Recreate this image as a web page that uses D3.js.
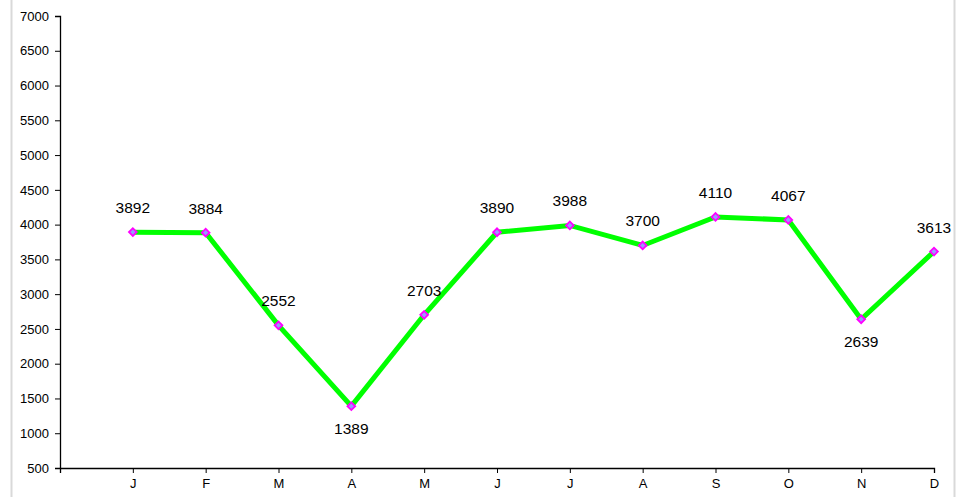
<!DOCTYPE html>
<html><head><meta charset="utf-8">
<script src="https://cdn.jsdelivr.net/npm/d3@7"></script>
<style>body{margin:0;background:#fff;}svg{display:block;font-family:"Liberation Sans",Arial,sans-serif;}</style>
</head><body>
<svg id="c" width="959" height="497"></svg>
<script>
const months = ["J","F","M","A","M","J","J","A","S","O","N","D"];
const values = [3892,3884,2552,1389,2703,3890,3988,3700,4110,4067,2639,3613];
const labelBelow = [false,false,false,true,false,false,false,false,false,false,true,false];
const yTicks = [500,1000,1500,2000,2500,3000,3500,4000,4500,5000,5500,6000,6500,7000];

(function(){
const svg = d3.select("#c");
const mLeft = 60, mRight = 934, mTop = 16, mBottom = 468;

svg.append("line").attr("x1",11.5).attr("x2",11.5).attr("y1",0).attr("y2",497).attr("stroke","#d9d9d9").attr("stroke-width",2);
svg.append("line").attr("x1",954.5).attr("x2",954.5).attr("y1",0).attr("y2",497).attr("stroke","#d9d9d9").attr("stroke-width",2);

const x = d3.scaleLinear().domain([0,12]).range([mLeft,mRight]);
const y = d3.scaleLinear().domain([500,7000]).range([mBottom,mTop]);

const yAxis = d3.axisLeft(y).tickValues(yTicks).tickSize(5).tickPadding(6).tickFormat(d3.format("d"));
const gy = svg.append("g").attr("transform",`translate(${mLeft},0)`).call(yAxis);
gy.select(".domain").attr("stroke","#000").attr("stroke-width",1.3);
gy.selectAll(".tick line").attr("stroke","#000");
gy.selectAll("text").attr("font-size",13).attr("fill","#000").style("font-family","Liberation Sans, Arial, sans-serif");

const xAxis = d3.axisBottom(x).tickValues(d3.range(0,13)).tickSize(5).tickPadding(6)
  .tickFormat(i => i===0 ? "" : months[i-1]);
const gx = svg.append("g").attr("transform",`translate(0,${mBottom})`).call(xAxis);
gx.select(".domain").attr("stroke","#000").attr("stroke-width",1.3);
gx.selectAll(".tick line").attr("stroke","#000");
gx.selectAll("text").attr("font-size",13).attr("fill","#000").style("font-family","Liberation Sans, Arial, sans-serif");

const line = d3.line().x((d,i)=>x(i+1)).y(d=>y(d));
svg.append("path").datum(values).attr("d",line).attr("fill","none")
  .attr("stroke","#00ff00").attr("stroke-width",5).attr("stroke-linejoin","miter");

const sym = d3.symbol().type(d3.symbolSquare).size(30);
svg.selectAll("path.m").data(values).join("path").attr("class","m")
  .attr("d",sym).attr("transform",(d,i)=>`translate(${x(i+1)},${y(d)}) rotate(45)`)
  .attr("fill","#9999ff").attr("stroke","#ff00ff").attr("stroke-width",1.8);

svg.selectAll("text.lab").data(values).join("text").attr("class","lab")
  .attr("x",(d,i)=>x(i+1)).attr("y",(d,i)=> labelBelow[i] ? y(d)+28 : y(d)-19)
  .attr("text-anchor","middle").attr("font-size",15.5).attr("fill","#000")
  .text(d=>d);
})();
</script>
</body></html>
